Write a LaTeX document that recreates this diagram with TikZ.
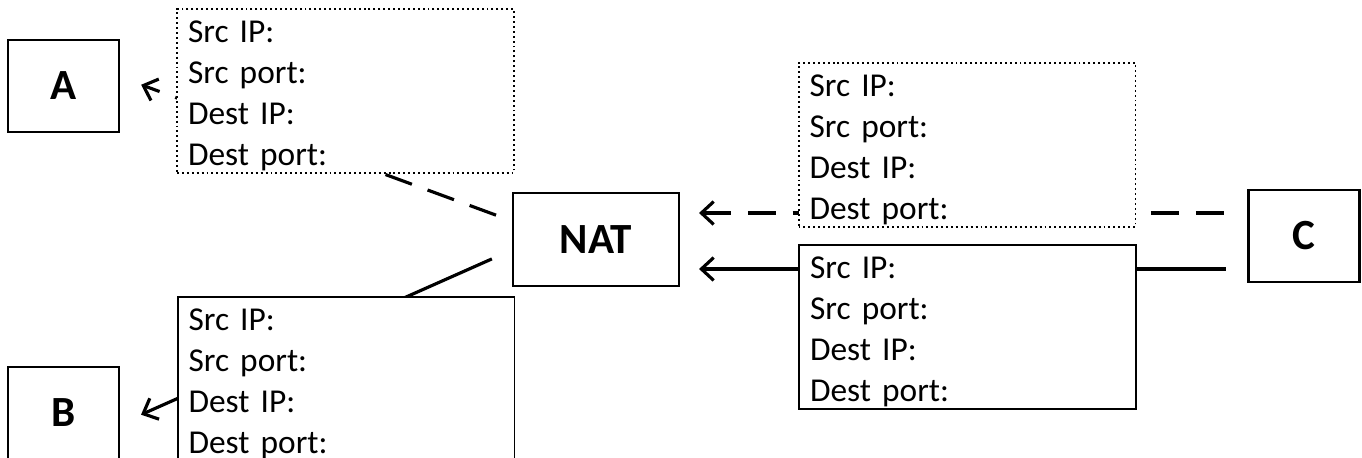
\documentclass[tikz,border=0pt]{standalone}
\usepackage{fontspec}
\setmainfont{Carlito}
\usepackage{tikz}
\usetikzlibrary{arrows.meta,positioning,calc}
\DeclareRobustCommand{\pktfont}{\fontsize{19}{23.3}\selectfont\spaceskip=0.2em\relax}

\begin{document}
\begin{tikzpicture}[
    x=0.02cm, y=-0.02cm,
    >={Straight Barb[length=7pt,width=13pt]},
    hostbox/.style={rectangle, draw, line width=1.2pt, minimum width=2.22cm, minimum height=1.84cm, font=\bfseries\fontsize{24.5}{29}\selectfont},
    natbox/.style={hostbox, minimum width=3.32cm, minimum height=1.86cm},
    packet/.style={rectangle, draw, fill=white, line width=1.1pt, text width=6.3cm, inner xsep=0.22cm, inner ysep=0pt, minimum height=3.28cm, align=left, text height=18pt, font=\pktfont},
    dotbox/.style={packet, dash pattern=on 1.1pt off 1.7pt},
    link/.style={line width=1.8pt},
    dashlink/.style={link, dash pattern=on 16pt off 9.5pt}
]
\clip (0,0) rectangle (1362,457);

\node[hostbox] (a) at (63.5,86) {A};
\node[hostbox] (b) at (63.5,413) {B};
\node[natbox] (nat) at (596,239.5) {NAT};
\node[hostbox] (c) at (1304,236) {C};

% NAT towards A and B
\draw[dashlink, ->, shorten <=0.34cm, shorten >=0.45cm] ([yshift=0.37cm]nat.west) -- ([yshift=0.18cm]a.east);
\draw[link, ->, shorten <=0.44cm, shorten >=0.46cm] ([yshift=-0.21cm]nat.west) -- ([yshift=-0.22cm]b.east);

% C towards NAT
\draw[dashlink, <-, shorten <=0.38cm, shorten >=0.42cm] ([yshift=0.53cm]nat.east) -- ([yshift=0.53cm]nat.east -| c.west);
\draw[link, <-, shorten <=0.38cm, shorten >=0.42cm] ([yshift=-0.59cm]nat.east) -- ([yshift=-0.59cm]nat.east -| c.west);

% packet headers
\node[dotbox] (pkta) at (345.5,91) {Src IP:\\Src port:\\Dest IP:\\Dest port:};
\node[packet] (pktb) at (346,379) {Src IP:\\Src port:\\Dest IP:\\Dest port:};
\node[dotbox] (pktcd) at (967,145) {Src IP:\\Src port:\\Dest IP:\\Dest port:};
\node[packet] (pktcs) at (967.5,327) {Src IP:\\Src port:\\Dest IP:\\Dest port:};

\end{tikzpicture}
\end{document}
